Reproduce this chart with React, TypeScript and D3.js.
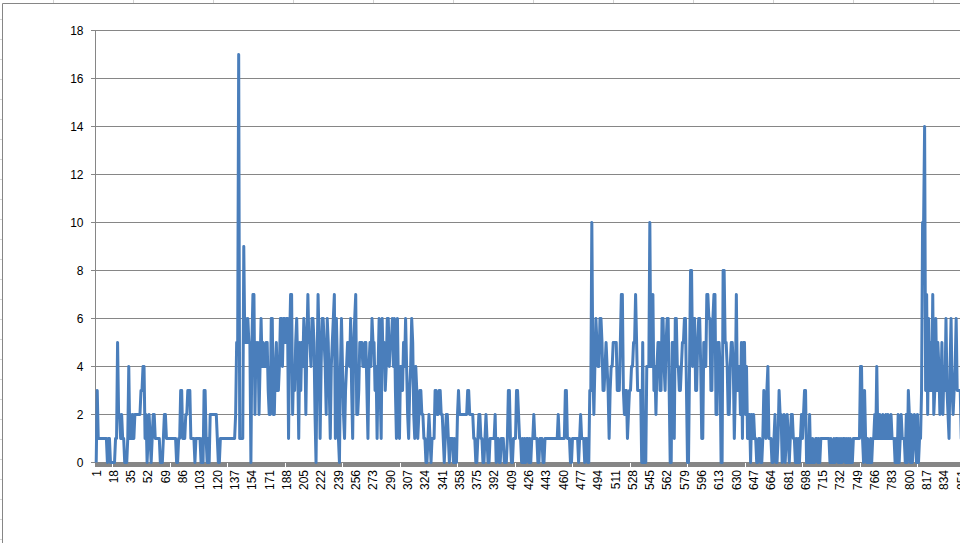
import React from 'react';
import * as d3 from 'd3';

const values: number[] = [
  0,3,1,1,1,1,1,1,1,1, 1,0,1,1,0,0,0,0,0,1, 1,5,2,2,1,2,1,1,0,0, 0,1,4,1,2,1,2,1,2,2,
  2,2,2,2,3,3,4,4,1,2, 0,1,2,1,0,1,2,2,1,1, 1,1,1,0,0,0,1,2,2,1, 1,1,1,1,1,1,1,1,1,0,
  0,1,1,3,3,1,1,1,2,2, 3,3,3,1,1,1,1,0,1,1, 1,1,1,0,1,0,3,3,1,0, 1,0,2,2,2,2,2,2,2,1,
  0,0,1,1,1,1,1,1,1,1, 1,1,1,1,1,1,1,2,5,5, 17,1,1,1,1,9,5,6,5,6, 5,5,0,5,7,7,2,5,4,5, 2,
  4,6,4,5,4,4,5,5,3,2, 2,6,6,2,2,4,5,3,3,4, 6,6,4,6,6,5,6,6,1,5, 7,7,2,4,3,5,6,4,1,5,
  3,5,4,6,5,2,5,7,5,5, 4,6,6,5,2,0,4,7,5,1, 4,6,6,5,4,2,6,5,3,1, 4,5,6,7,1,6,4,1,0,4,
  6,4,2,1,3,4,5,5,4,6, 3,1,5,6,7,2,2,3,5,5, 5,4,4,5,5,3,1,4,5,4, 6,5,5,3,4,1,4,6,3,1,
  6,4,5,3,4,6,6,4,5,5, 6,4,6,3,1,6,3,1,4,4, 3,5,4,6,4,2,1,3,4,6, 5,2,1,4,3,1,2,3,3,2,
  2,1,1,0,0,1,2,1,0,1, 1,1,3,3,2,2,3,3,2, 2,1,0,1,2,2,1,0,1,1, 1,0,1,0,0,2,3,2,2,2,
  2,2,2,2,2,3,3,2,2,2, 2,1,1,0,0,1,2,2,1,1, 0,0,1,2,1,0,0,1,1,1, 1,1,2,0,1,1,0,0,1,1,
  1,0,0,0,1,3,3,1,0,0, 1,1,1,3,3,2,1,1,0,1, 0,1,0,1,1,0,1,0,1,1, 2,1,1,1,0,0,1,1,1,0,
  0,1,1,1,1,1,1,1,1,1, 1,1,1,1,2,1,1,1,1,1, 1,3,3,1,1,1,0,0,1,1, 1,1,1,1,0,1,2,1,1,1,
  0,1,1,0,0,3,3,10,4,2, 4,6,5,4,4,6,6,5,3,3, 4,5,4,3,1,3,4,4,5,5, 5,5,3,3,3,5,7,7,3,2,
  3,3,1,2,3,3,4,4,5,5, 7,5,3,3,3,3,0,5,0,0, 0,4,4,4,10,4,4,7,3,4, 2,4,5,5,3,3,6,6,4,3,
  5,6,6,3,0,0,5,5,1,6, 6,4,4,3,3,4,5,5,6,6, 3,0,0,4,8,8,4,6,6,3, 3,5,6,6,4,1,1,5,5,4,
  7,7,6,6,3,3,6,7,7,2, 2,5,5,4,0,0,8,8,5,5, 4,2,2,4,5,5,4,1,3,7, 3,4,4,2,5,1,5,5,2,4,
  1,2,2,0,2,1,2,1,1,0, 0,1,1,0,0,1,3,2,1,3, 4,1,1,1,0,0,1,2,0,0, 1,3,2,2,0,1,2,0,1,2,
  1,0,1,2,2,1,1,0,1,0, 1,0,1,2,1,2,3,3,0,1, 0,2,0,0,1,0,0,1,1,0, 1,0,1,1,1,1,1,1,1,1,
  1,0,1,0,0,1,0,1,1,0, 1,0,1,0,1,1,0,1,0,1, 0,1,0,0,1,1,1,1,1,1, 1,4,4,1,0,3,1,0,1,0,
  0,1,0,1,1,2,1,4,1,1, 2,1,1,2,1,1,2,1,2,1, 1,2,1,1,1,0,1,0,2,0, 1,2,1,1,1,0,2,0,3,2,
  0,2,0,1,2,1,0,2,0,1, 1,3,10,10,14,3,7,2,6,3, 5,3,7,2,3,6,3,5,4,2, 3,5,2,4,3,6,3,2,1,4,
  6,3,2,3,4,6,3,3,3,3, 1,3
];

const categories: number[] = values.map((_, i) => i + 1);

const yTickValues: number[] = [0, 2, 4, 6, 8, 10, 12, 14, 16, 18];

const xTickLabels: number[] = [
  1, 18, 35, 52, 69, 86, 103, 120, 137, 154, 171, 188, 205, 222, 239, 256, 273, 290, 307,
  324, 341, 358, 375, 392, 409, 426, 443, 460, 477, 494, 511, 528, 545, 562, 579, 596, 613,
  630, 647, 664, 681, 698, 715, 732, 749, 766, 783, 800, 817, 834, 851
];

export default function App() {
  const W = 960;
  const H = 543;
  const plotLeft = 95.7;
  const step = 1.0177;
  const gray = '#868686';
  const font = '"Liberation Sans", Arial, sans-serif';

  const x = d3
    .scaleBand<number>()
    .domain(categories)
    .range([plotLeft, plotLeft + categories.length * step])
    .paddingInner(0)
    .paddingOuter(0);
  const cx = (c: number) => (x(c) as number) + x.bandwidth() / 2;
  const y = d3.scaleLinear().domain([0, 18]).range([462.5, 30.5]);

  const line = d3
    .line<number>()
    .x((_, i) => cx(categories[i]))
    .y((d) => y(d));

  const colLines = d3.range(53, W, 80);
  const rowLines = d3.range(19.5, H, 20);

  return (
    <div style={{ position: 'absolute', left: 0, top: 0, width: W, height: H, overflow: 'hidden', background: '#fff' }}>
      <svg width={W} height={H} style={{ display: 'block' }}>
        <rect x={0} y={0} width={W} height={H} fill="#fff" />
        {colLines.map((cxl) => (
          <line key={'c' + cxl} x1={cxl + 0.5} x2={cxl + 0.5} y1={0} y2={3} stroke="#d4d4d4" />
        ))}
        {rowLines.map((ry) => (
          <line key={'r' + ry} x1={0} x2={2} y1={ry} y2={ry} stroke="#d4d4d4" />
        ))}
        <line x1={2.5} x2={W} y1={3.5} y2={3.5} stroke={gray} />
        <line x1={2.5} x2={2.5} y1={3.5} y2={H} stroke={gray} />

        {yTickValues.filter((v) => v > 0).map((v) => (
          <line key={'g' + v} x1={95} x2={W} y1={y(v)} y2={y(v)} stroke={gray} shapeRendering="crispEdges" />
        ))}
        <line x1={95.5} x2={95.5} y1={30} y2={463} stroke={gray} shapeRendering="crispEdges" />
        {yTickValues.map((v) => (
          <g key={'yt' + v}>
            <line x1={91} x2={95} y1={y(v)} y2={y(v)} stroke={gray} shapeRendering="crispEdges" />
            <text x={83.5} y={y(v)} dy="0.36em" textAnchor="end" fontFamily={font} fontSize={12} fill="#000">
              {v}
            </text>
          </g>
        ))}

        <line x1={95} x2={W} y1={462.5} y2={462.5} stroke={gray} shapeRendering="crispEdges" />
        {categories.map((c) => (
          <line
            key={'xt' + c}
            x1={x(c) as number}
            x2={x(c) as number}
            y1={462}
            y2={467}
            stroke={gray}
            shapeRendering="crispEdges"
          />
        ))}

        <path d={line(values) || ''} fill="none" stroke="#4A7EBB" strokeWidth={3} strokeLinejoin="round" strokeLinecap="butt" />

        {xTickLabels.map((c) => (
          <text
            key={'xl' + c}
            transform={`translate(${cx(c)},${470}) rotate(-90)`}
            dy="0.36em"
            textAnchor="end"
            fontFamily={font}
            fontSize={12}
            fill="#000"
          >
            {c}
          </text>
        ))}
      </svg>
    </div>
  );
}
